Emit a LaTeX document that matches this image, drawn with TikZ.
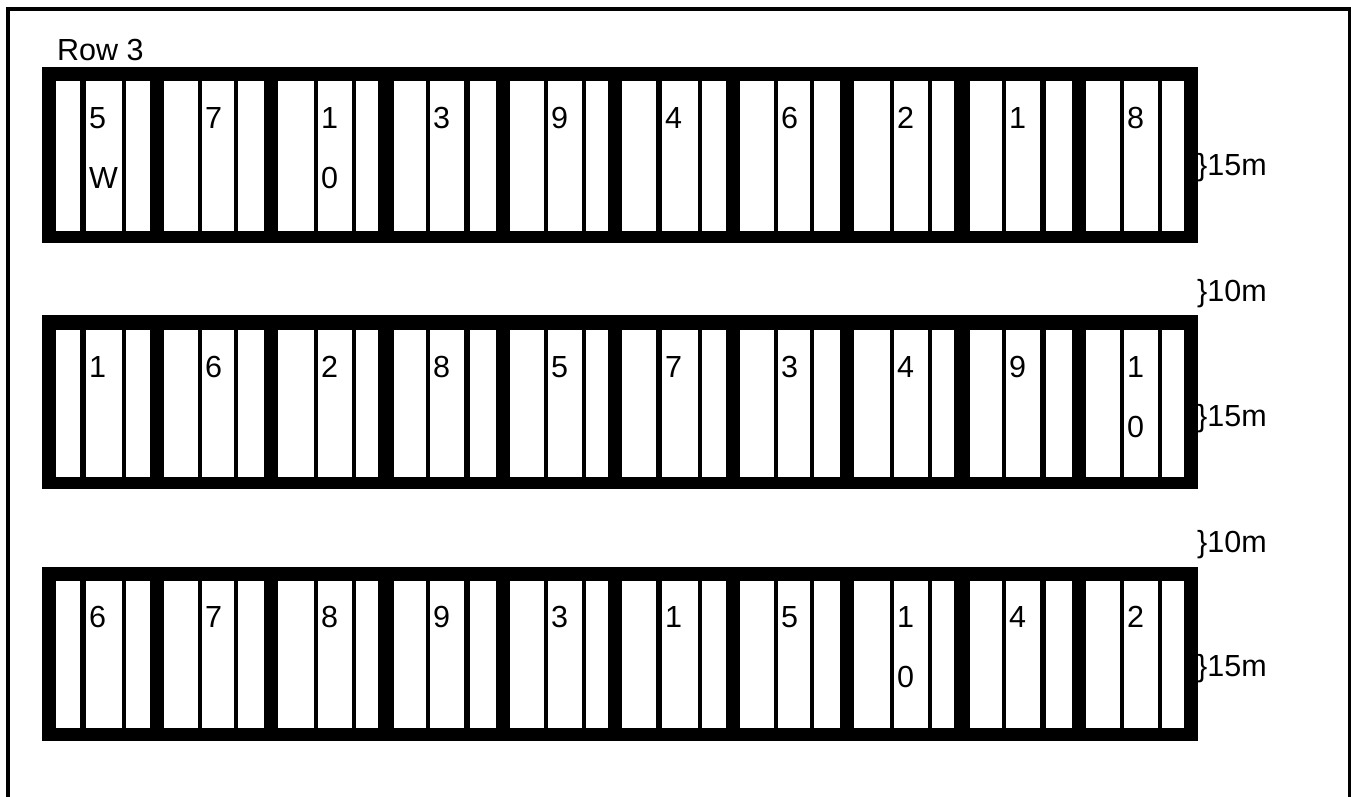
\documentclass[tikz,border=0pt]{standalone}
\usepackage{fontspec}
\setmainfont{Liberation Sans}
\begin{document}
\begin{tikzpicture}[x=1pt,y=-1pt,
  txt/.style={inner sep=0pt,font=\fontsize{30.5}{60}\selectfont},
  cell/.style={txt,anchor=north west,align=left},
  side/.style={txt,anchor=base west},
  block/.style={fill=black},
  gap/.style={fill=white}]
\useasboundingbox (0,0) rectangle (1351,797);
% frame (open at the bottom)
\draw[line width=4pt] (8,805) -- (8,9) -- (1349.5,9) -- (1349.5,805);
% title
\node[side] (title) at (57,61) {Row 3};
% rows of plots
\foreach \r/\T/\wt/\wb/\B/\ly in {1/67/81/231/243/107, 2/315/330/477/489/356, 3/567/581/728/741/606}{
  \fill[block] (42,\T) rectangle (1198,\B);
  \foreach \a/\b in {56/80,86/122,126/150,164/198,202/234,238/264,278/314,318/352,356/378,
                     394/426,430/464,470/496,510/544,548/582,586/608,622/656,662/698,702/726,
                     740/774,778/810,814/840,854/890,894/928,932/954,970/1002,1006/1040,1046/1072,
                     1086/1120,1124/1158,1162/1184}
    \fill[gap] (\a,\wt) rectangle (\b,\wb);
}
% labels of row 1
\foreach \x/\t [count=\i] in {86/{5\\W},202/7,318/{1\\0},430/3,548/9,662/4,778/6,894/2,1006/1,1124/8}
  \node[cell] (a\i) at (\x+3,107) {\t};
% labels of row 2
\foreach \x/\t [count=\i] in {86/1,202/6,318/2,430/8,548/5,662/7,778/3,894/4,1006/9,1124/{1\\0}}
  \node[cell] (b\i) at (\x+3,356) {\t};
% labels of row 3
\foreach \x/\t [count=\i] in {86/6,202/7,318/8,430/9,548/3,662/1,778/5,894/{1\\0},1006/4,1124/2}
  \node[cell] (c\i) at (\x+3,606) {\t};
% dimensions
\node[side] (d1) at (1197,175) {\}15m};
\node[side] (d2) at (1197,301) {\}10m};
\node[side] (d3) at (1197,426) {\}15m};
\node[side] (d4) at (1197,552) {\}10m};
\node[side] (d5) at (1197,676) {\}15m};
\end{tikzpicture}
\end{document}
